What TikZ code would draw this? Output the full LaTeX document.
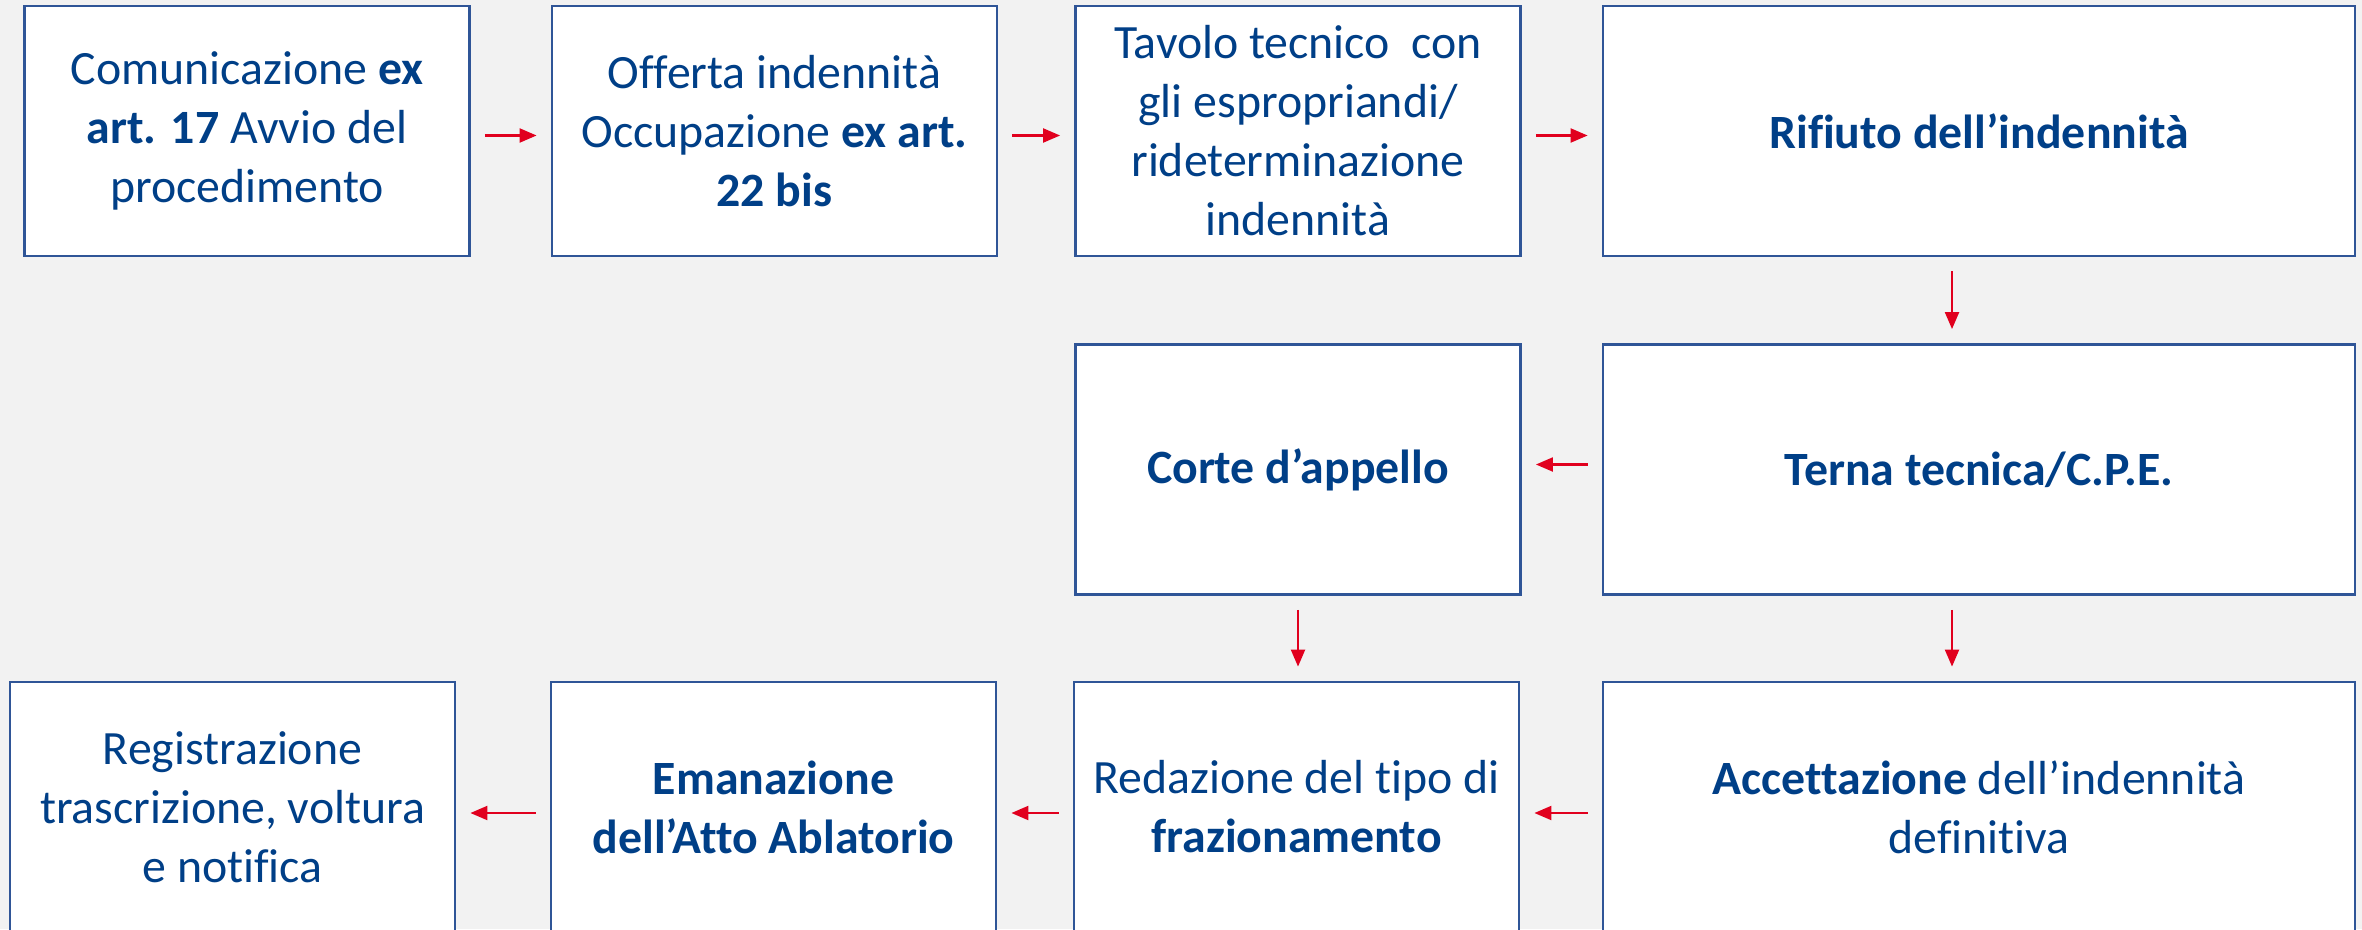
\documentclass[tikz,border=0pt]{standalone}
\usepackage{fontspec}
\setmainfont{Carlito}[Ligatures=NoCommon]
\usepackage{xcolor}
\usepackage{tikz}
\usetikzlibrary{arrows.meta,positioning}
\definecolor{bordc}{HTML}{2F5597}
\definecolor{txtc}{HTML}{003F87}
\definecolor{arrc}{HTML}{E1001E}
\definecolor{pagebg}{HTML}{F2F2F2}
\tikzset{
  ar/.style={-{Triangle[length=1.7mm,width=1.4mm]},line width=0.6pt,arrc,shorten <=1.4mm,shorten >=1.4mm},
  box/.style={draw=bordc,line width=0.8pt,fill=white,align=center,text=txtc,inner sep=4pt,minimum height=2.5cm,font=\fontsize{13.6}{16.8}\selectfont},
  sbox/.style={box,minimum width=4.45cm},
  wbox/.style={box,minimum width=7.52cm}
}
\begin{document}
\begin{tikzpicture}
\fill[pagebg] (0,0) rectangle (23.62,9.29);
\useasboundingbox (0,0) rectangle (23.62,9.29);
% prima riga
\node[sbox] (com) at (2.47,7.98) {Comunicazione \textbf{ex}\\\textbf{art. 17} Avvio del\\procedimento};
\node[sbox] (off) at (7.745,7.98) {Offerta indennità\\Occupazione \textbf{ex art.}\\\textbf{22 bis}};
\node[sbox] (tav) at (12.98,7.98) {Tavolo tecnico\ \ con\\gli espropriandi/\\rideterminazione\\indennità};
\node[wbox] (rif) at (19.79,7.98) {\textbf{Rifiuto dell’indennità}};
% seconda riga
\node[sbox] (cor) at (12.98,4.595) {\textbf{Corte d’appello}};
\node[wbox] (ter) at (19.79,4.595) {\textbf{Terna tecnica/C.P.E.}};
% terza riga
\node[sbox] (reg) at (2.325,1.22) {Registrazione\\trascrizione, voltura\\e notifica};
\node[sbox] (ema) at (7.735,1.22) {\textbf{Emanazione}\\\textbf{dell’Atto Ablatorio}};
\node[sbox] (red) at (12.965,1.22) {Redazione del tipo di\\\textbf{frazionamento}};
\node[wbox] (acc) at (19.79,1.22) {\textbf{Accettazione} dell’indennità\\definitiva};
% frecce
\draw[ar] ([yshift=-0.45mm]com.east) -- ([yshift=-0.45mm]off.west);
\draw[ar] ([yshift=-0.45mm]off.east) -- ([yshift=-0.45mm]tav.west);
\draw[ar] ([yshift=-0.45mm]tav.east) -- ([yshift=-0.45mm]rif.west);
\draw[ar] ([xshift=-2.7mm]rif.south) -- ([xshift=-2.7mm]ter.north);
\draw[ar] ([yshift=0.5mm]ter.west) -- ([yshift=0.5mm]cor.east);
\draw[ar] (cor.south) -- (cor.south |- red.north);
\draw[ar] ([xshift=-2.7mm]ter.south) -- ([xshift=-2.7mm]acc.north);
\draw[ar] ([yshift=-0.6mm]acc.west) -- ([yshift=-0.6mm]red.east);
\draw[ar] ([yshift=-0.6mm]red.west) -- ([yshift=-0.6mm]ema.east);
\draw[ar] ([yshift=-0.6mm]ema.west) -- ([yshift=-0.6mm]reg.east);
\end{tikzpicture}
\end{document}
